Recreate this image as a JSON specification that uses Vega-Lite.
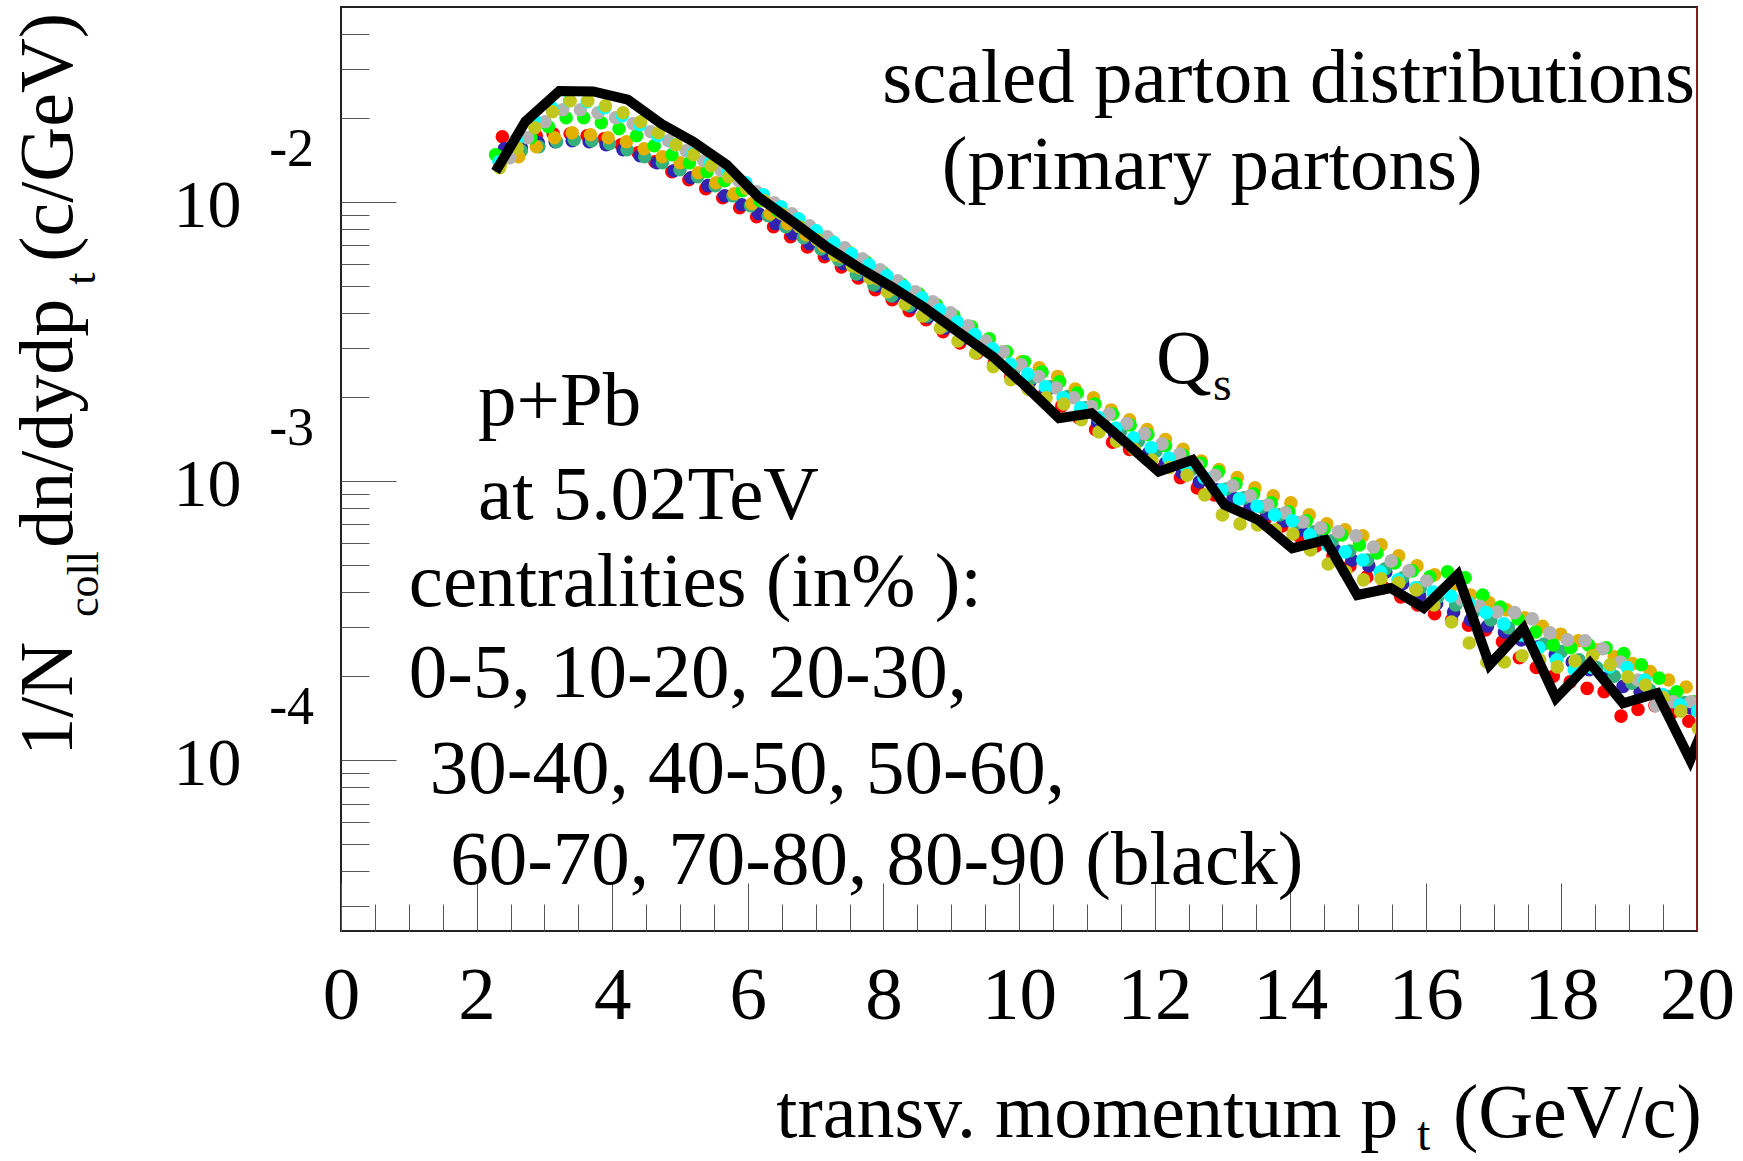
{
"$schema":"https://vega.github.io/schema/vega-lite/v6.json",
"width":1356,"height":924,"autosize":"none",
"padding":{"left":341,"top":7,"right":46,"bottom":230},
"background":"white",
"config":{"view":{"stroke":"#222","strokeWidth":2},"font":"Liberation Serif"},
"resolve":{"axis":{"x":"independent","y":"independent"}},
"datasets":{
"pts":[
{"c":"0-5","x":2.38,"y":0.01714},{"c":"0-5","x":2.63,"y":0.01686},{"c":"0-5","x":2.88,"y":0.01729},{"c":"0-5","x":3.13,"y":0.01757},{"c":"0-5","x":3.38,"y":0.01757},{"c":"0-5","x":3.63,"y":0.01729},{"c":"0-5","x":3.88,"y":0.01686},{"c":"0-5","x":4.13,"y":0.01605},{"c":"0-5","x":4.38,"y":0.01502},{"c":"0-5","x":4.63,"y":0.01395},{"c":"0-5","x":4.88,"y":0.01285},{"c":"0-5","x":5.13,"y":0.01202},{"c":"0-5","x":5.38,"y":0.01117},{"c":"0-5","x":5.63,"y":0.01036},{"c":"0-5","x":5.88,"y":0.00954},{"c":"0-5","x":6.13,"y":0.00886},{"c":"0-5","x":6.38,"y":0.00816},{"c":"0-5","x":6.63,"y":0.00751},{"c":"0-5","x":6.88,"y":0.00691},{"c":"0-5","x":7.13,"y":0.00637},{"c":"0-5","x":7.38,"y":0.00586},{"c":"0-5","x":7.63,"y":0.00535},{"c":"0-5","x":7.88,"y":0.00485},{"c":"0-5","x":8.13,"y":0.00447},{"c":"0-5","x":8.38,"y":0.00408},{"c":"0-5","x":8.63,"y":0.00379},{"c":"0-5","x":8.88,"y":0.00343},{"c":"0-5","x":9.13,"y":0.00313},{"c":"0-5","x":9.38,"y":0.00288},{"c":"0-5","x":9.63,"y":0.00263},{"c":"0-5","x":9.88,"y":0.00237},{"c":"0-5","x":10.13,"y":0.00216},{"c":"0-5","x":10.38,"y":0.00206},{"c":"0-5","x":10.63,"y":0.00186},{"c":"0-5","x":10.88,"y":0.00169},{"c":"0-5","x":11.13,"y":0.00153},{"c":"0-5","x":11.38,"y":0.00138},{"c":"0-5","x":11.63,"y":0.0013},{"c":"0-5","x":11.88,"y":0.00121},{"c":"0-5","x":12.13,"y":0.00112},{"c":"0-5","x":12.38,"y":0.00103},{"c":"0-5","x":12.63,"y":0.000946},{"c":"0-5","x":12.88,"y":0.000893},{"c":"0-5","x":13.13,"y":0.000836},{"c":"0-5","x":13.38,"y":0.000776},{"c":"0-5","x":13.63,"y":0.000732},{"c":"0-5","x":13.88,"y":0.000691},{"c":"0-5","x":14.13,"y":0.000637},{"c":"0-5","x":14.38,"y":0.000586},{"c":"0-5","x":14.63,"y":0.00054},{"c":"0-5","x":14.88,"y":0.000497},{"c":"0-5","x":15.13,"y":0.000454},{"c":"0-5","x":15.38,"y":0.000415},{"c":"0-5","x":15.63,"y":0.000385},{"c":"0-5","x":15.88,"y":0.00036},{"c":"0-5","x":16.13,"y":0.000335},{"c":"0-5","x":16.38,"y":0.000318},{"c":"0-5","x":16.63,"y":0.000305},{"c":"0-5","x":16.88,"y":0.000293},{"c":"0-5","x":17.13,"y":0.000266},{"c":"0-5","x":17.38,"y":0.000233},{"c":"0-5","x":17.63,"y":0.000215},{"c":"0-5","x":17.88,"y":0.0002},{"c":"0-5","x":18.13,"y":0.000191},{"c":"0-5","x":18.38,"y":0.000181},{"c":"0-5","x":18.63,"y":0.000176},{"c":"0-5","x":18.88,"y":0.000144},{"c":"0-5","x":19.13,"y":0.000152},{"c":"0-5","x":19.38,"y":0.000157},{"c":"0-5","x":19.63,"y":0.000148},{"c":"0-5","x":19.88,"y":0.000138},{"c":"0-5","x":20.13,"y":0.000128},
{"c":"10-20","x":2.41,"y":0.01553},{"c":"10-20","x":2.66,"y":0.01566},{"c":"10-20","x":2.91,"y":0.01631},{"c":"10-20","x":3.16,"y":0.01645},{"c":"10-20","x":3.41,"y":0.01658},{"c":"10-20","x":3.66,"y":0.01645},{"c":"10-20","x":3.91,"y":0.01605},{"c":"10-20","x":4.16,"y":0.0154},{"c":"10-20","x":4.41,"y":0.01466},{"c":"10-20","x":4.66,"y":0.01383},{"c":"10-20","x":4.91,"y":0.01295},{"c":"10-20","x":5.16,"y":0.01222},{"c":"10-20","x":5.41,"y":0.01145},{"c":"10-20","x":5.66,"y":0.01053},{"c":"10-20","x":5.91,"y":0.00978},{"c":"10-20","x":6.16,"y":0.00908},{"c":"10-20","x":6.41,"y":0.00836},{"c":"10-20","x":6.66,"y":0.0077},{"c":"10-20","x":6.91,"y":0.00709},{"c":"10-20","x":7.16,"y":0.00653},{"c":"10-20","x":7.41,"y":0.00601},{"c":"10-20","x":7.66,"y":0.00549},{"c":"10-20","x":7.91,"y":0.00501},{"c":"10-20","x":8.16,"y":0.00461},{"c":"10-20","x":8.41,"y":0.00421},{"c":"10-20","x":8.66,"y":0.00388},{"c":"10-20","x":8.91,"y":0.00354},{"c":"10-20","x":9.16,"y":0.00324},{"c":"10-20","x":9.41,"y":0.00298},{"c":"10-20","x":9.66,"y":0.00272},{"c":"10-20","x":9.91,"y":0.00246},{"c":"10-20","x":10.16,"y":0.00227},{"c":"10-20","x":10.41,"y":0.00211},{"c":"10-20","x":10.66,"y":0.00194},{"c":"10-20","x":10.91,"y":0.00177},{"c":"10-20","x":11.16,"y":0.00162},{"c":"10-20","x":11.41,"y":0.00148},{"c":"10-20","x":11.66,"y":0.00136},{"c":"10-20","x":11.91,"y":0.00126},{"c":"10-20","x":12.16,"y":0.00116},{"c":"10-20","x":12.41,"y":0.00107},{"c":"10-20","x":12.66,"y":0.000994},{"c":"10-20","x":12.91,"y":0.000931},{"c":"10-20","x":13.16,"y":0.000871},{"c":"10-20","x":13.41,"y":0.000809},{"c":"10-20","x":13.66,"y":0.000763},{"c":"10-20","x":13.91,"y":0.000721},{"c":"10-20","x":14.16,"y":0.000669},{"c":"10-20","x":14.41,"y":0.000616},{"c":"10-20","x":14.66,"y":0.000567},{"c":"10-20","x":14.91,"y":0.000522},{"c":"10-20","x":15.16,"y":0.000497},{"c":"10-20","x":15.41,"y":0.000473},{"c":"10-20","x":15.66,"y":0.000429},{"c":"10-20","x":15.91,"y":0.000388},{"c":"10-20","x":16.16,"y":0.000364},{"c":"10-20","x":16.41,"y":0.00034},{"c":"10-20","x":16.66,"y":0.000318},{"c":"10-20","x":16.91,"y":0.000302},{"c":"10-20","x":17.16,"y":0.000288},{"c":"10-20","x":17.41,"y":0.00027},{"c":"10-20","x":17.66,"y":0.000255},{"c":"10-20","x":17.91,"y":0.000239},{"c":"10-20","x":18.16,"y":0.000225},{"c":"10-20","x":18.41,"y":0.000211},{"c":"10-20","x":18.66,"y":0.000197},{"c":"10-20","x":18.91,"y":0.000184},{"c":"10-20","x":19.16,"y":0.000176},{"c":"10-20","x":19.41,"y":0.000169},{"c":"10-20","x":19.66,"y":0.000162},{"c":"10-20","x":19.91,"y":0.000154},{"c":"10-20","x":20.16,"y":0.000147},
{"c":"20-30","x":2.4,"y":0.01454},{"c":"20-30","x":2.66,"y":0.01527},{"c":"20-30","x":2.92,"y":0.01579},{"c":"20-30","x":3.18,"y":0.01645},{"c":"20-30","x":3.44,"y":0.01672},{"c":"20-30","x":3.7,"y":0.01658},{"c":"20-30","x":3.96,"y":0.01618},{"c":"20-30","x":4.22,"y":0.0154},{"c":"20-30","x":4.48,"y":0.01454},{"c":"20-30","x":4.74,"y":0.01383},{"c":"20-30","x":5.0,"y":0.01306},{"c":"20-30","x":5.26,"y":0.01232},{"c":"20-30","x":5.52,"y":0.01145},{"c":"20-30","x":5.78,"y":0.01053},{"c":"20-30","x":6.04,"y":0.0097},{"c":"20-30","x":6.3,"y":0.00893},{"c":"20-30","x":6.56,"y":0.00816},{"c":"20-30","x":6.82,"y":0.00745},{"c":"20-30","x":7.08,"y":0.0068},{"c":"20-30","x":7.34,"y":0.00621},{"c":"20-30","x":7.6,"y":0.00553},{"c":"20-30","x":7.86,"y":0.00505},{"c":"20-30","x":8.12,"y":0.00461},{"c":"20-30","x":8.38,"y":0.00425},{"c":"20-30","x":8.64,"y":0.00391},{"c":"20-30","x":8.9,"y":0.0036},{"c":"20-30","x":9.16,"y":0.00332},{"c":"20-30","x":9.42,"y":0.00303},{"c":"20-30","x":9.68,"y":0.00279},{"c":"20-30","x":9.94,"y":0.00255},{"c":"20-30","x":10.2,"y":0.00235},{"c":"20-30","x":10.46,"y":0.00218},{"c":"20-30","x":10.72,"y":0.00201},{"c":"20-30","x":10.98,"y":0.00183},{"c":"20-30","x":11.24,"y":0.00166},{"c":"20-30","x":11.5,"y":0.00151},{"c":"20-30","x":11.76,"y":0.00139},{"c":"20-30","x":12.02,"y":0.00128},{"c":"20-30","x":12.28,"y":0.00119},{"c":"20-30","x":12.54,"y":0.0011},{"c":"20-30","x":12.8,"y":0.00101},{"c":"20-30","x":13.06,"y":0.000938},{"c":"20-30","x":13.32,"y":0.000871},{"c":"20-30","x":13.58,"y":0.000809},{"c":"20-30","x":13.84,"y":0.000757},{"c":"20-30","x":14.1,"y":0.000709},{"c":"20-30","x":14.36,"y":0.000658},{"c":"20-30","x":14.62,"y":0.000611},{"c":"20-30","x":14.88,"y":0.000562},{"c":"20-30","x":15.14,"y":0.000522},{"c":"20-30","x":15.4,"y":0.000485},{"c":"20-30","x":15.66,"y":0.000451},{"c":"20-30","x":15.92,"y":0.000415},{"c":"20-30","x":16.18,"y":0.000385},{"c":"20-30","x":16.44,"y":0.00036},{"c":"20-30","x":16.7,"y":0.000338},{"c":"20-30","x":16.96,"y":0.000318},{"c":"20-30","x":17.22,"y":0.000298},{"c":"20-30","x":17.48,"y":0.000279},{"c":"20-30","x":17.74,"y":0.000261},{"c":"20-30","x":18.0,"y":0.000245},{"c":"20-30","x":18.26,"y":0.000229},{"c":"20-30","x":18.52,"y":0.000215},{"c":"20-30","x":18.78,"y":0.0002},{"c":"20-30","x":19.04,"y":0.000189},{"c":"20-30","x":19.3,"y":0.000179},{"c":"20-30","x":19.56,"y":0.000169},{"c":"20-30","x":19.82,"y":0.000161},{"c":"20-30","x":20.08,"y":0.000152},
{"c":"30-40","x":2.35,"y":0.01361},{"c":"30-40","x":2.62,"y":0.01454},{"c":"30-40","x":2.88,"y":0.01579},{"c":"30-40","x":3.15,"y":0.017},{"c":"30-40","x":3.41,"y":0.01772},{"c":"30-40","x":3.68,"y":0.01743},{"c":"30-40","x":3.94,"y":0.017},{"c":"30-40","x":4.21,"y":0.01645},{"c":"30-40","x":4.47,"y":0.01553},{"c":"30-40","x":4.74,"y":0.01454},{"c":"30-40","x":5.0,"y":0.01383},{"c":"30-40","x":5.27,"y":0.01274},{"c":"30-40","x":5.53,"y":0.01173},{"c":"30-40","x":5.8,"y":0.01071},{"c":"30-40","x":6.06,"y":0.00986},{"c":"30-40","x":6.33,"y":0.00908},{"c":"30-40","x":6.59,"y":0.00836},{"c":"30-40","x":6.86,"y":0.00764},{"c":"30-40","x":7.12,"y":0.00697},{"c":"30-40","x":7.39,"y":0.00637},{"c":"30-40","x":7.65,"y":0.00581},{"c":"30-40","x":7.92,"y":0.00531},{"c":"30-40","x":8.18,"y":0.00489},{"c":"30-40","x":8.45,"y":0.00447},{"c":"30-40","x":8.71,"y":0.00411},{"c":"30-40","x":8.98,"y":0.00379},{"c":"30-40","x":9.24,"y":0.00346},{"c":"30-40","x":9.51,"y":0.00316},{"c":"30-40","x":9.77,"y":0.00291},{"c":"30-40","x":10.04,"y":0.00268},{"c":"30-40","x":10.3,"y":0.00255},{"c":"30-40","x":10.57,"y":0.00237},{"c":"30-40","x":10.83,"y":0.00214},{"c":"30-40","x":11.1,"y":0.00199},{"c":"30-40","x":11.36,"y":0.0018},{"c":"30-40","x":11.63,"y":0.00166},{"c":"30-40","x":11.89,"y":0.00153},{"c":"30-40","x":12.16,"y":0.00141},{"c":"30-40","x":12.42,"y":0.0013},{"c":"30-40","x":12.69,"y":0.00118},{"c":"30-40","x":12.95,"y":0.0011},{"c":"30-40","x":13.22,"y":0.00103},{"c":"30-40","x":13.48,"y":0.000946},{"c":"30-40","x":13.75,"y":0.000886},{"c":"30-40","x":14.01,"y":0.000836},{"c":"30-40","x":14.28,"y":0.000757},{"c":"30-40","x":14.54,"y":0.000703},{"c":"30-40","x":14.81,"y":0.000669},{"c":"30-40","x":15.07,"y":0.000637},{"c":"30-40","x":15.34,"y":0.000591},{"c":"30-40","x":15.6,"y":0.00054},{"c":"30-40","x":15.87,"y":0.000497},{"c":"30-40","x":16.13,"y":0.000462},{"c":"30-40","x":16.4,"y":0.000425},{"c":"30-40","x":16.66,"y":0.000391},{"c":"30-40","x":16.93,"y":0.000367},{"c":"30-40","x":17.19,"y":0.000346},{"c":"30-40","x":17.46,"y":0.000324},{"c":"30-40","x":17.72,"y":0.000302},{"c":"30-40","x":17.99,"y":0.000283},{"c":"30-40","x":18.25,"y":0.000268},{"c":"30-40","x":18.52,"y":0.000249},{"c":"30-40","x":18.78,"y":0.000235},{"c":"30-40","x":19.05,"y":0.000222},{"c":"30-40","x":19.31,"y":0.000208},{"c":"30-40","x":19.58,"y":0.000194},{"c":"30-40","x":19.84,"y":0.000183},{"c":"30-40","x":20.11,"y":0.000173},
{"c":"40-50","x":2.28,"y":0.01478},{"c":"40-50","x":2.54,"y":0.01592},{"c":"40-50","x":2.8,"y":0.017},{"c":"40-50","x":3.06,"y":0.01862},{"c":"40-50","x":3.32,"y":0.02006},{"c":"40-50","x":3.58,"y":0.02006},{"c":"40-50","x":3.84,"y":0.01924},{"c":"40-50","x":4.1,"y":0.01831},{"c":"40-50","x":4.36,"y":0.01729},{"c":"40-50","x":4.62,"y":0.01592},{"c":"40-50","x":4.88,"y":0.01478},{"c":"40-50","x":5.14,"y":0.01383},{"c":"40-50","x":5.4,"y":0.01285},{"c":"40-50","x":5.66,"y":0.01192},{"c":"40-50","x":5.92,"y":0.01098},{"c":"40-50","x":6.18,"y":0.01011},{"c":"40-50","x":6.44,"y":0.00931},{"c":"40-50","x":6.7,"y":0.00857},{"c":"40-50","x":6.96,"y":0.00789},{"c":"40-50","x":7.22,"y":0.00727},{"c":"40-50","x":7.48,"y":0.00664},{"c":"40-50","x":7.74,"y":0.00611},{"c":"40-50","x":8.0,"y":0.00558},{"c":"40-50","x":8.26,"y":0.00509},{"c":"40-50","x":8.52,"y":0.00469},{"c":"40-50","x":8.78,"y":0.00429},{"c":"40-50","x":9.04,"y":0.00391},{"c":"40-50","x":9.3,"y":0.00357},{"c":"40-50","x":9.56,"y":0.00324},{"c":"40-50","x":9.82,"y":0.00291},{"c":"40-50","x":10.08,"y":0.00268},{"c":"40-50","x":10.34,"y":0.00246},{"c":"40-50","x":10.6,"y":0.00227},{"c":"40-50","x":10.86,"y":0.00207},{"c":"40-50","x":11.12,"y":0.00189},{"c":"40-50","x":11.38,"y":0.00174},{"c":"40-50","x":11.64,"y":0.00159},{"c":"40-50","x":11.9,"y":0.00147},{"c":"40-50","x":12.16,"y":0.00134},{"c":"40-50","x":12.42,"y":0.00124},{"c":"40-50","x":12.68,"y":0.00116},{"c":"40-50","x":12.94,"y":0.00108},{"c":"40-50","x":13.2,"y":0.000978},{"c":"40-50","x":13.46,"y":0.000901},{"c":"40-50","x":13.72,"y":0.000836},{"c":"40-50","x":13.98,"y":0.000776},{"c":"40-50","x":14.24,"y":0.000721},{"c":"40-50","x":14.5,"y":0.000674},{"c":"40-50","x":14.76,"y":0.000642},{"c":"40-50","x":15.02,"y":0.000591},{"c":"40-50","x":15.28,"y":0.000553},{"c":"40-50","x":15.54,"y":0.000509},{"c":"40-50","x":15.8,"y":0.000477},{"c":"40-50","x":16.06,"y":0.000454},{"c":"40-50","x":16.32,"y":0.000473},{"c":"40-50","x":16.58,"y":0.000451},{"c":"40-50","x":16.84,"y":0.000391},{"c":"40-50","x":17.1,"y":0.000354},{"c":"40-50","x":17.36,"y":0.000321},{"c":"40-50","x":17.62,"y":0.000288},{"c":"40-50","x":17.88,"y":0.000259},{"c":"40-50","x":18.14,"y":0.000253},{"c":"40-50","x":18.4,"y":0.000259},{"c":"40-50","x":18.66,"y":0.000253},{"c":"40-50","x":18.92,"y":0.000241},{"c":"40-50","x":19.18,"y":0.00022},{"c":"40-50","x":19.44,"y":0.000197},{"c":"40-50","x":19.7,"y":0.000176},{"c":"40-50","x":19.96,"y":0.000162},{"c":"40-50","x":20.22,"y":0.00015},
{"c":"50-60","x":2.49,"y":0.01442},{"c":"50-60","x":2.75,"y":0.017},{"c":"50-60","x":3.01,"y":0.0194},{"c":"50-60","x":3.27,"y":0.02142},{"c":"50-60","x":3.53,"y":0.02142},{"c":"50-60","x":3.79,"y":0.0209},{"c":"50-60","x":4.05,"y":0.02006},{"c":"50-60","x":4.31,"y":0.01908},{"c":"50-60","x":4.57,"y":0.01786},{"c":"50-60","x":4.83,"y":0.01658},{"c":"50-60","x":5.09,"y":0.01527},{"c":"50-60","x":5.35,"y":0.01406},{"c":"50-60","x":5.61,"y":0.01295},{"c":"50-60","x":5.87,"y":0.01192},{"c":"50-60","x":6.13,"y":0.01089},{"c":"50-60","x":6.39,"y":0.00994},{"c":"50-60","x":6.65,"y":0.00908},{"c":"50-60","x":6.91,"y":0.00822},{"c":"50-60","x":7.17,"y":0.00751},{"c":"50-60","x":7.43,"y":0.00686},{"c":"50-60","x":7.69,"y":0.00626},{"c":"50-60","x":7.95,"y":0.00572},{"c":"50-60","x":8.21,"y":0.00522},{"c":"50-60","x":8.47,"y":0.00477},{"c":"50-60","x":8.73,"y":0.00439},{"c":"50-60","x":8.99,"y":0.00401},{"c":"50-60","x":9.25,"y":0.0036},{"c":"50-60","x":9.51,"y":0.00318},{"c":"50-60","x":9.77,"y":0.00291},{"c":"50-60","x":10.03,"y":0.00261},{"c":"50-60","x":10.29,"y":0.00237},{"c":"50-60","x":10.55,"y":0.00216},{"c":"50-60","x":10.81,"y":0.00199},{"c":"50-60","x":11.07,"y":0.00185},{"c":"50-60","x":11.33,"y":0.00174},{"c":"50-60","x":11.59,"y":0.00161},{"c":"50-60","x":11.85,"y":0.00148},{"c":"50-60","x":12.11,"y":0.00136},{"c":"50-60","x":12.37,"y":0.00125},{"c":"50-60","x":12.63,"y":0.00114},{"c":"50-60","x":12.89,"y":0.00105},{"c":"50-60","x":13.15,"y":0.000962},{"c":"50-60","x":13.41,"y":0.000886},{"c":"50-60","x":13.67,"y":0.000822},{"c":"50-60","x":13.93,"y":0.00077},{"c":"50-60","x":14.19,"y":0.000715},{"c":"50-60","x":14.45,"y":0.00068},{"c":"50-60","x":14.71,"y":0.000658},{"c":"50-60","x":14.97,"y":0.000637},{"c":"50-60","x":15.23,"y":0.000581},{"c":"50-60","x":15.49,"y":0.000518},{"c":"50-60","x":15.75,"y":0.000477},{"c":"50-60","x":16.01,"y":0.000439},{"c":"50-60","x":16.27,"y":0.000405},{"c":"50-60","x":16.53,"y":0.000376},{"c":"50-60","x":16.79,"y":0.000357},{"c":"50-60","x":17.05,"y":0.00034},{"c":"50-60","x":17.31,"y":0.000338},{"c":"50-60","x":17.57,"y":0.000321},{"c":"50-60","x":17.83,"y":0.000286},{"c":"50-60","x":18.09,"y":0.00027},{"c":"50-60","x":18.35,"y":0.000268},{"c":"50-60","x":18.61,"y":0.000251},{"c":"50-60","x":18.87,"y":0.000225},{"c":"50-60","x":19.13,"y":0.000194},{"c":"50-60","x":19.39,"y":0.000157},{"c":"50-60","x":19.65,"y":0.000162},{"c":"50-60","x":19.91,"y":0.000162},{"c":"50-60","x":20.17,"y":0.000157},
{"c":"60-70","x":2.33,"y":0.01395},{"c":"60-70","x":2.59,"y":0.01672},{"c":"60-70","x":2.85,"y":0.01972},{"c":"60-70","x":3.11,"y":0.02177},{"c":"60-70","x":3.37,"y":0.02307},{"c":"60-70","x":3.63,"y":0.02288},{"c":"60-70","x":3.89,"y":0.02177},{"c":"60-70","x":4.15,"y":0.02039},{"c":"60-70","x":4.41,"y":0.01893},{"c":"60-70","x":4.67,"y":0.01729},{"c":"60-70","x":4.93,"y":0.01605},{"c":"60-70","x":5.19,"y":0.0149},{"c":"60-70","x":5.45,"y":0.01383},{"c":"60-70","x":5.71,"y":0.01274},{"c":"60-70","x":5.97,"y":0.01173},{"c":"60-70","x":6.23,"y":0.01062},{"c":"60-70","x":6.49,"y":0.00962},{"c":"60-70","x":6.75,"y":0.00871},{"c":"60-70","x":7.01,"y":0.00789},{"c":"60-70","x":7.27,"y":0.00715},{"c":"60-70","x":7.53,"y":0.00653},{"c":"60-70","x":7.79,"y":0.00596},{"c":"60-70","x":8.05,"y":0.00544},{"c":"60-70","x":8.31,"y":0.00497},{"c":"60-70","x":8.57,"y":0.00454},{"c":"60-70","x":8.83,"y":0.00411},{"c":"60-70","x":9.09,"y":0.00372},{"c":"60-70","x":9.35,"y":0.00335},{"c":"60-70","x":9.61,"y":0.00298},{"c":"60-70","x":9.87,"y":0.00263},{"c":"60-70","x":10.13,"y":0.00242},{"c":"60-70","x":10.39,"y":0.00218},{"c":"60-70","x":10.65,"y":0.00199},{"c":"60-70","x":10.91,"y":0.00183},{"c":"60-70","x":11.17,"y":0.00169},{"c":"60-70","x":11.43,"y":0.00155},{"c":"60-70","x":11.69,"y":0.00143},{"c":"60-70","x":11.95,"y":0.00132},{"c":"60-70","x":12.21,"y":0.00121},{"c":"60-70","x":12.47,"y":0.00112},{"c":"60-70","x":12.73,"y":0.00103},{"c":"60-70","x":12.99,"y":0.000931},{"c":"60-70","x":13.25,"y":0.000864},{"c":"60-70","x":13.51,"y":0.000815},{"c":"60-70","x":13.77,"y":0.000757},{"c":"60-70","x":14.03,"y":0.000721},{"c":"60-70","x":14.29,"y":0.000642},{"c":"60-70","x":14.55,"y":0.000591},{"c":"60-70","x":14.81,"y":0.000558},{"c":"60-70","x":15.07,"y":0.000522},{"c":"60-70","x":15.33,"y":0.000473},{"c":"60-70","x":15.59,"y":0.000443},{"c":"60-70","x":15.85,"y":0.000415},{"c":"60-70","x":16.11,"y":0.000401},{"c":"60-70","x":16.37,"y":0.000388},{"c":"60-70","x":16.63,"y":0.000367},{"c":"60-70","x":16.89,"y":0.000338},{"c":"60-70","x":17.15,"y":0.000308},{"c":"60-70","x":17.41,"y":0.000281},{"c":"60-70","x":17.67,"y":0.000253},{"c":"60-70","x":17.93,"y":0.000229},{"c":"60-70","x":18.19,"y":0.000211},{"c":"60-70","x":18.45,"y":0.000215},{"c":"60-70","x":18.71,"y":0.000216},{"c":"60-70","x":18.97,"y":0.000215},{"c":"60-70","x":19.23,"y":0.000194},{"c":"60-70","x":19.49,"y":0.000172},{"c":"60-70","x":19.75,"y":0.000158},{"c":"60-70","x":20.01,"y":0.00015},
{"c":"70-80","x":2.34,"y":0.01328},{"c":"70-80","x":2.6,"y":0.01566},{"c":"70-80","x":2.86,"y":0.01847},{"c":"70-80","x":3.12,"y":0.02107},{"c":"70-80","x":3.38,"y":0.02307},{"c":"70-80","x":3.64,"y":0.02307},{"c":"70-80","x":3.9,"y":0.02214},{"c":"70-80","x":4.16,"y":0.0209},{"c":"70-80","x":4.42,"y":0.0194},{"c":"70-80","x":4.68,"y":0.01772},{"c":"70-80","x":4.94,"y":0.01605},{"c":"70-80","x":5.2,"y":0.01478},{"c":"70-80","x":5.46,"y":0.0135},{"c":"70-80","x":5.72,"y":0.01232},{"c":"70-80","x":5.98,"y":0.01117},{"c":"70-80","x":6.24,"y":0.01011},{"c":"70-80","x":6.5,"y":0.00908},{"c":"70-80","x":6.76,"y":0.00816},{"c":"70-80","x":7.02,"y":0.00733},{"c":"70-80","x":7.28,"y":0.00647},{"c":"70-80","x":7.54,"y":0.00591},{"c":"70-80","x":7.8,"y":0.00535},{"c":"70-80","x":8.06,"y":0.00477},{"c":"70-80","x":8.32,"y":0.00432},{"c":"70-80","x":8.58,"y":0.00391},{"c":"70-80","x":8.84,"y":0.00354},{"c":"70-80","x":9.1,"y":0.00318},{"c":"70-80","x":9.36,"y":0.00288},{"c":"70-80","x":9.62,"y":0.00257},{"c":"70-80","x":9.88,"y":0.00231},{"c":"70-80","x":10.14,"y":0.00213},{"c":"70-80","x":10.4,"y":0.00199},{"c":"70-80","x":10.66,"y":0.00189},{"c":"70-80","x":10.92,"y":0.00166},{"c":"70-80","x":11.18,"y":0.0015},{"c":"70-80","x":11.44,"y":0.00139},{"c":"70-80","x":11.7,"y":0.0013},{"c":"70-80","x":11.96,"y":0.00119},{"c":"70-80","x":12.22,"y":0.00112},{"c":"70-80","x":12.48,"y":0.00105},{"c":"70-80","x":12.74,"y":0.000893},{"c":"70-80","x":13.0,"y":0.000757},{"c":"70-80","x":13.26,"y":0.000703},{"c":"70-80","x":13.52,"y":0.000697},{"c":"70-80","x":13.78,"y":0.000669},{"c":"70-80","x":14.04,"y":0.000647},{"c":"70-80","x":14.3,"y":0.000567},{"c":"70-80","x":14.56,"y":0.000505},{"c":"70-80","x":14.82,"y":0.000473},{"c":"70-80","x":15.08,"y":0.000443},{"c":"70-80","x":15.34,"y":0.000447},{"c":"70-80","x":15.6,"y":0.000432},{"c":"70-80","x":15.86,"y":0.000408},{"c":"70-80","x":16.12,"y":0.00036},{"c":"70-80","x":16.38,"y":0.000313},{"c":"70-80","x":16.64,"y":0.000263},{"c":"70-80","x":16.9,"y":0.000225},{"c":"70-80","x":17.16,"y":0.000225},{"c":"70-80","x":17.42,"y":0.000237},{"c":"70-80","x":17.68,"y":0.000229},{"c":"70-80","x":17.94,"y":0.000216},{"c":"70-80","x":18.2,"y":0.000227},{"c":"70-80","x":18.46,"y":0.000237},{"c":"70-80","x":18.72,"y":0.00022},{"c":"70-80","x":18.98,"y":0.000199},{"c":"70-80","x":19.24,"y":0.000186},{"c":"70-80","x":19.5,"y":0.000168},{"c":"70-80","x":19.76,"y":0.00015},{"c":"70-80","x":20.02,"y":0.00013}
],
"black":[
{"x":2.28,"y":0.01287},{"x":2.72,"y":0.01945},{"x":3.22,"y":0.025},{"x":3.72,"y":0.0249},{"x":4.23,"y":0.02326},{"x":4.73,"y":0.01904},{"x":5.19,"y":0.01649},{"x":5.69,"y":0.0136},{"x":6.16,"y":0.0104},{"x":6.66,"y":0.00852},{"x":7.14,"y":0.00697},{"x":7.65,"y":0.0058},{"x":8.12,"y":0.00497},{"x":8.6,"y":0.004195},{"x":9.08,"y":0.003457},{"x":9.62,"y":0.00279},{"x":10.11,"y":0.002178},{"x":10.59,"y":0.001681},{"x":11.07,"y":0.001752},{"x":11.58,"y":0.001372},{"x":12.06,"y":0.001082},{"x":12.56,"y":0.001192},{"x":13.03,"y":0.000823},{"x":13.53,"y":0.000727},{"x":14.03,"y":0.000575},{"x":14.52,"y":0.000616},{"x":14.99,"y":0.000391},{"x":15.48,"y":0.000414},{"x":15.97,"y":0.000351},{"x":16.47,"y":0.000462},{"x":16.94,"y":0.00022},{"x":17.44,"y":0.000297},{"x":17.92,"y":0.000167},{"x":18.42,"y":0.000223},{"x":18.91,"y":0.00016},{"x":19.41,"y":0.000174},{"x":19.9,"y":0.0001003},{"x":20.39,"y":0.000194}
]
},
"layer":[
{"data":{"name":"pts"},
 "mark":{"type":"circle","size":185,"opacity":1,"clip":true},
 "encoding":{
  "x":{"field":"x","type":"quantitative","scale":{"domain":[0,20],"nice":false,"zero":false},
   "axis":{"orient":"bottom","title":null,"grid":false,"domain":false,"labels":false,"values":[0.5,1,1.5,2.5,3,3.5,4.5,5,5.5,6.5,7,7.5,8.5,9,9.5,10.5,11,11.5,12.5,13,13.5,14.5,15,15.5,16.5,17,17.5,18.5,19,19.5],
    "tickSize":-27,"tickColor":"#555","tickWidth":1}},
  "y":{"field":"y","type":"quantitative","scale":{"type":"log","domain":[2.445e-5,0.05],"nice":false},
   "axis":{"orient":"left","title":null,"grid":false,"domain":false,"labels":false,"values":[0.00003,0.00004,0.00005,0.00006,0.00007,0.00008,0.00009,0.0002,0.0003,0.0004,0.0005,0.0006,0.0007,0.0008,0.0009,0.002,0.003,0.004,0.005,0.006,0.007,0.008,0.009,0.02,0.03,0.04],
    "tickSize":-28,"tickColor":"#555","tickWidth":1}},
  "color":{"field":"c","type":"nominal","legend":null,
   "scale":{"domain":["0-5","10-20","20-30","30-40","40-50","50-60","60-70","70-80"],
    "range":["#ff0000","#3322b0","#36b07f","#e2b000","#00ff00","#b3b3b3","#00ffff","#c0c81e"]}}
 }},
{"data":{"name":"black"},
 "mark":{"type":"line","color":"black","strokeWidth":10,"strokeJoin":"miter","clip":true},
 "encoding":{
  "x":{"field":"x","type":"quantitative",
   "axis":{"orient":"bottom","title":null,"grid":false,"domain":false,"values":[0,2,4,6,8,10,12,14,16,18,20],
    "tickSize":-48,"tickColor":"#555","tickWidth":1,
    "labelFont":"Liberation Serif","labelFontSize":75,"labelColor":"black","labelPadding":76,
    "labelFlush":false,"labelOverlap":false,"labelBound":false}},
  "y":{"field":"y","type":"quantitative",
   "axis":{"orient":"left","title":null,"grid":false,"domain":false,"values":[0.0001,0.001,0.01],
    "labelExpr":"'10'","tickSize":-55,"tickColor":"#555","tickWidth":1,
    "labelFont":"Liberation Serif","labelFontSize":68,"labelColor":"black","labelPadding":155,"labelOffset":4,
    "labelFlush":false,"labelOverlap":false,"labelBound":false}}}},
{"data":{"values":[{"x":20}]},
 "mark":{"type":"rule","color":"#8b1a1a","strokeWidth":2},
 "encoding":{"x":{"field":"x","type":"quantitative","axis":null}}},
{"data":{"values":[{"t":"-2","x":-1.06,"y":0.0154},{"t":"-3","x":-1.06,"y":0.00154},{"t":"-4","x":-1.06,"y":0.000154}]},
 "mark":{"type":"text","font":"Liberation Serif","fontSize":54,"align":"left","baseline":"middle","color":"black","clip":false},
 "encoding":{"x":{"field":"x","type":"quantitative","axis":null},"y":{"field":"y","type":"quantitative","axis":null},"text":{"field":"t"}}},
{"data":{"values":[{"t":"p+Pb","x":2.02,"y":0.00159},{"t":"at 5.02TeV","x":2.02,"y":0.000733},{"t":"centralities (in% ):","x":1.0,"y":0.000357},{"t":"0-5, 10-20, 20-30,","x":1.0,"y":0.000168},{"t":"30-40, 40-50, 50-60,","x":1.31,"y":0.0000764},{"t":"60-70, 70-80, 80-90 (black)","x":1.61,"y":0.000036},{"t":"Q","x":12.02,"y":0.00225}]},
 "mark":{"type":"text","font":"Liberation Serif","fontSize":77,"align":"left","baseline":"alphabetic","color":"black","clip":false},
 "encoding":{"x":{"field":"x","type":"quantitative","axis":null},"y":{"field":"y","type":"quantitative","axis":null},"text":{"field":"t"}}},
{"data":{"values":[{"t":"transv. momentum p","x":6.42,"y":0.00000447},{"t":"(GeV/c)","x":16.4,"y":0.00000447}]},
 "mark":{"type":"text","font":"Liberation Serif","fontSize":76,"align":"left","baseline":"alphabetic","color":"black","clip":false},
 "encoding":{"x":{"field":"x","type":"quantitative","axis":null},"y":{"field":"y","type":"quantitative","axis":null},"text":{"field":"t"}}},
{"data":{"values":[{"t":"scaled parton distributions","x":19.97,"y":0.02288}]},
 "mark":{"type":"text","font":"Liberation Serif","fontSize":77,"align":"right","baseline":"alphabetic","color":"black","clip":false},
 "encoding":{"x":{"field":"x","type":"quantitative","axis":null},"y":{"field":"y","type":"quantitative","axis":null},"text":{"field":"t"}}},
{"data":{"values":[{"t":"(primary partons)","x":12.85,"y":0.01117}]},
 "mark":{"type":"text","font":"Liberation Serif","fontSize":77,"align":"center","baseline":"alphabetic","color":"black","clip":false},
 "encoding":{"x":{"field":"x","type":"quantitative","axis":null},"y":{"field":"y","type":"quantitative","axis":null},"text":{"field":"t"}}},
{"data":{"values":[{"t":"s","x":12.86,"y":0.00196},{"t":"t","x":15.87,"y":0.00000401}]},
 "mark":{"type":"text","font":"Liberation Serif","fontSize":48,"align":"left","baseline":"alphabetic","color":"black","clip":false},
 "encoding":{"x":{"field":"x","type":"quantitative","axis":null},"y":{"field":"y","type":"quantitative","axis":null},"text":{"field":"t"}}},
{"data":{"values":[{"t":"1/N","x":-3.968,"y":0.0001037},{"t":"dn/dydp","x":-3.968,"y":0.000577},{"t":"(c/GeV)","x":-3.968,"y":0.00611}]},
 "mark":{"type":"text","font":"Liberation Serif","fontSize":76,"align":"left","baseline":"alphabetic","angle":270,"color":"black","clip":false},
 "encoding":{"x":{"field":"x","type":"quantitative","axis":null},"y":{"field":"y","type":"quantitative","axis":null},"text":{"field":"t"}}},
{"data":{"values":[{"t":"coll","x":-3.584,"y":0.000326},{"t":"t","x":-3.628,"y":0.005054}]},
 "mark":{"type":"text","font":"Liberation Serif","fontSize":44,"align":"left","baseline":"alphabetic","angle":270,"color":"black","clip":false},
 "encoding":{"x":{"field":"x","type":"quantitative","axis":null},"y":{"field":"y","type":"quantitative","axis":null},"text":{"field":"t"}}}
]
}
